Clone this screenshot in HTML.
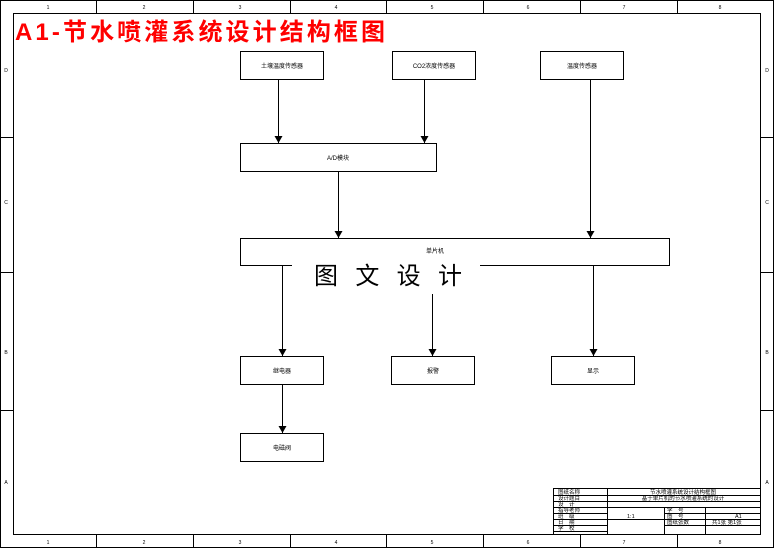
<!DOCTYPE html>
<html><head><meta charset="utf-8"><style>
html,body{margin:0;padding:0;background:#fff}
svg{display:block}
text{font-family:"Liberation Sans","Noto Sans CJK SC",sans-serif}
</style></head><body>
<svg width="774" height="548" viewBox="0 0 774 548" xmlns="http://www.w3.org/2000/svg">
<defs><marker id="a" markerWidth="8" markerHeight="8" refX="7" refY="4" orient="auto" markerUnits="userSpaceOnUse"><path d="M0,0 L7,4 L0,8 z" fill="#000"/></marker></defs>
<rect x="0.5" y="0.5" width="773" height="547" fill="#fff" stroke="#000"/>
<rect x="13.5" y="13.5" width="747" height="521" fill="none" stroke="#000"/>
<g stroke="#000" stroke-width="1">
<line x1="96.5" y1="0" x2="96.5" y2="13"/><line x1="193.5" y1="0" x2="193.5" y2="13"/><line x1="290.5" y1="0" x2="290.5" y2="13"/><line x1="386.5" y1="0" x2="386.5" y2="13"/><line x1="483.5" y1="0" x2="483.5" y2="13"/><line x1="580.5" y1="0" x2="580.5" y2="13"/><line x1="677.5" y1="0" x2="677.5" y2="13"/>
<line x1="96.5" y1="535" x2="96.5" y2="548"/><line x1="193.5" y1="535" x2="193.5" y2="548"/><line x1="290.5" y1="535" x2="290.5" y2="548"/><line x1="386.5" y1="535" x2="386.5" y2="548"/><line x1="483.5" y1="535" x2="483.5" y2="548"/><line x1="580.5" y1="535" x2="580.5" y2="548"/><line x1="677.5" y1="535" x2="677.5" y2="548"/>
<line x1="0" y1="137.5" x2="13" y2="137.5"/><line x1="0" y1="272.5" x2="13" y2="272.5"/><line x1="0" y1="410.5" x2="13" y2="410.5"/>
<line x1="761" y1="137.5" x2="774" y2="137.5"/><line x1="761" y1="272.5" x2="774" y2="272.5"/><line x1="761" y1="410.5" x2="774" y2="410.5"/>
</g>
<g font-size="5" text-anchor="middle">
<text x="48" y="9">1</text><text x="144" y="9">2</text><text x="240" y="9">3</text><text x="336" y="9">4</text><text x="432" y="9">5</text><text x="528" y="9">6</text><text x="624" y="9">7</text><text x="720" y="9">8</text>
<text x="48" y="544">1</text><text x="144" y="544">2</text><text x="240" y="544">3</text><text x="336" y="544">4</text><text x="432" y="544">5</text><text x="528" y="544">6</text><text x="624" y="544">7</text><text x="720" y="544">8</text>
<text x="6" y="72">D</text><text x="6" y="204">C</text><text x="6" y="354">B</text><text x="6" y="484">A</text>
<text x="767" y="72">D</text><text x="767" y="204">C</text><text x="767" y="354">B</text><text x="767" y="484">A</text>
</g>
<text x="15" y="40" font-size="24" font-weight="bold" fill="#ff0000" textLength="370" lengthAdjust="spacing" font-family="Liberation Sans,'Noto Sans CJK SC',sans-serif">A1-节水喷灌系统设计结构框图</text>
<g fill="#fff" stroke="#000">
<rect x="240.5" y="51.5" width="83" height="28"/><rect x="392.5" y="51.5" width="83" height="28"/><rect x="540.5" y="51.5" width="83" height="28"/>
<rect x="240.5" y="143.5" width="196" height="28"/>
<rect x="240.5" y="238.5" width="429" height="27"/>
<rect x="240.5" y="356.5" width="83" height="28"/><rect x="391.5" y="356.5" width="83" height="28"/><rect x="551.5" y="356.5" width="83" height="28"/>
<rect x="240.5" y="433.5" width="83" height="28"/>
</g>
<g font-size="6" text-anchor="middle">
<text x="282" y="68">土壤温度传感器</text><text x="434" y="68">CO2浓度传感器</text><text x="582" y="68">温度传感器</text>
<text x="338" y="160">A/D模块</text><text x="435" y="253">单片机</text>
<text x="282" y="373">继电器</text><text x="433" y="373">报警</text><text x="593" y="373">显示</text><text x="282" y="450">电磁阀</text>
</g>
<g stroke="#000" marker-end="url(#a)">
<line x1="278.5" y1="79" x2="278.5" y2="143"/><line x1="424.5" y1="79" x2="424.5" y2="143"/>
<line x1="338.5" y1="171" x2="338.5" y2="238"/><line x1="590.5" y1="79" x2="590.5" y2="238"/>
<line x1="282.5" y1="265" x2="282.5" y2="356"/><line x1="432.5" y1="294" x2="432.5" y2="356"/><line x1="593.5" y1="265" x2="593.5" y2="356"/>
<line x1="282.5" y1="384" x2="282.5" y2="433"/>
</g>
<rect x="292" y="260" width="188" height="32" fill="#fff"/>
<text x="314" y="284" font-size="24" textLength="148" lengthAdjust="spacing" font-family="'Noto Serif CJK SC',serif">图文设计</text>
<g fill="none" stroke="#000">
<rect x="553.5" y="488.5" width="207" height="46"/>
<line x1="553" y1="495.5" x2="760" y2="495.5"/><line x1="553" y1="501.5" x2="760" y2="501.5"/>
<line x1="553" y1="507.5" x2="760" y2="507.5"/><line x1="553" y1="513.5" x2="607" y2="513.5"/><line x1="664" y1="513.5" x2="760" y2="513.5"/>
<line x1="553" y1="519.5" x2="760" y2="519.5"/><line x1="553" y1="525.5" x2="607" y2="525.5"/><line x1="664" y1="525.5" x2="760" y2="525.5"/>
<line x1="553" y1="531.5" x2="607" y2="531.5"/>
<line x1="607.5" y1="488" x2="607.5" y2="535"/><line x1="664.5" y1="507" x2="664.5" y2="535"/><line x1="705.5" y1="507" x2="705.5" y2="535"/>
</g>
<g font-size="5.5">
<text x="558" y="494">图纸名称</text><text x="558" y="500">设计题目</text><text x="558" y="506">设　计</text><text x="558" y="512">指导老师</text><text x="558" y="518">班　级</text><text x="558" y="524">日　期</text><text x="558" y="530">学　校</text>
<text x="683" y="494" text-anchor="middle">节水喷灌系统设计结构框图</text><text x="683" y="500" text-anchor="middle">基于单片机的节水喷灌系统的设计</text>
<text x="627" y="518">1:1</text><text x="667" y="512">学　号</text><text x="667" y="518">图　号</text><text x="667" y="524">图纸张数</text>
<text x="735" y="518">A1</text><text x="712" y="524">共1张 第1张</text>
</g>
</svg>
</body></html>
